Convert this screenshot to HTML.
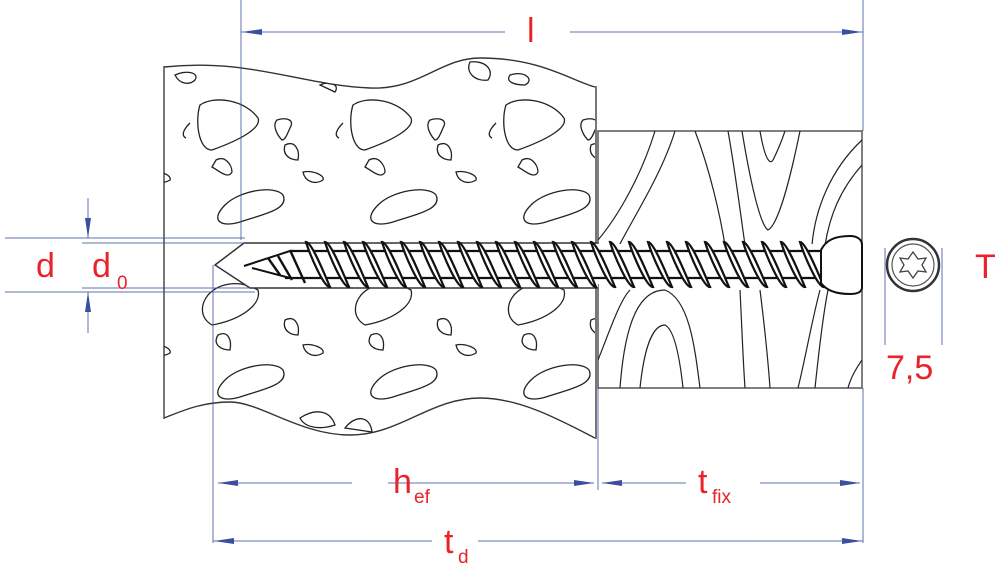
<!DOCTYPE html>
<html><head><meta charset="utf-8"><style>
html,body{margin:0;padding:0;background:#fff;width:1000px;height:573px;overflow:hidden}
svg{display:block}
text{font-family:"Liberation Sans",Arial,sans-serif;fill:#e8232a}
</style></head><body>
<svg width="1000" height="573" viewBox="0 0 1000 573" xmlns="http://www.w3.org/2000/svg">
<defs>
<clipPath id="blk"><path d="M164,67 C250,58 300,85 370,88 C420,90 440,58 480,58 C540,58 570,80 595,87 L595,438 C560,420 520,398 480,398 C430,398 400,435 350,435 C300,435 260,402 230,402 C200,402 180,412 164,418 Z"/></clipPath>
<clipPath id="wd"><rect x="598" y="131" width="264" height="257"/></clipPath>
<g id="tile" fill="none" stroke="#222" stroke-width="1.3">
<path d="M200,105 C215,95 245,100 258,118 C262,128 240,140 212,150 C198,150 195,120 200,105Z"/>
<path d="M216,160 C225,155 232,165 232,172 C228,180 218,170 212,167Z"/>
<path d="M190,123 C185,128 180,135 186,138"/>
<path d="M225,205 C240,190 275,185 283,195 C290,210 260,215 240,222 C220,228 210,220 225,205Z"/>
<path d="M277,120 C287,117 295,120 290,128 C287,135 285,140 282,140 C277,135 272,125 277,120Z"/>
<path d="M303,172 C312,170 325,175 323,180 C315,185 305,182 303,172Z"/>
<path d="M285,145 C295,140 300,150 298,160 C290,160 282,155 285,145Z"/>
<path d="M208,295 C220,282 240,280 258,290 C262,305 240,320 212,325 C200,318 200,305 208,295Z"/>
<path d="M218,335 C228,330 232,340 230,350 C222,350 212,345 218,335Z"/>
<path d="M225,380 C240,365 275,360 283,370 C290,385 260,390 240,397 C220,403 210,395 225,380Z"/>
<path d="M285,320 C295,315 300,325 298,335 C290,335 282,330 285,320Z"/>
<path d="M303,345 C312,343 325,348 323,353 C315,358 305,355 303,345Z"/>
<path d="M285,255 C275,258 272,268 285,270"/>
</g>
</defs>
<path d="M164,67 C250,58 300,85 370,88 C420,90 440,58 480,58 C540,58 570,80 595,87 M164,418 C180,412 200,402 230,402 C260,402 300,435 350,435 C400,435 430,398 480,398 C520,398 560,420 595,438" fill="none" stroke="#333" stroke-width="1.4"/>
<line x1="164" y1="66" x2="164" y2="419" stroke="#555" stroke-width="1.6"/>
<line x1="596" y1="86" x2="596" y2="439" stroke="#555" stroke-width="1.6"/>
<g clip-path="url(#blk)">
<use href="#tile" x="0"/>
<use href="#tile" x="153"/>
<use href="#tile" x="306"/>
<use href="#tile" x="-153"/>
<path d="M175,75 C185,70 200,72 195,80 C190,85 180,85 175,75Z M320,85 C330,80 340,85 335,92Z M470,62 C485,60 495,70 488,80 C475,82 465,72 470,62Z M510,75 C525,70 535,80 525,85 C515,85 505,82 510,75Z M300,418 C315,408 330,410 335,425 C320,430 305,428 300,418Z M345,428 C355,415 370,415 372,432Z" fill="none" stroke="#222" stroke-width="1.3"/>
</g>
<rect x="598" y="131" width="264" height="257" fill="#fff" stroke="#555" stroke-width="1.5"/>
<g clip-path="url(#wd)" fill="none" stroke="#222" stroke-width="1.2">
<path d="M655,131 C640,180 615,220 598,240"/>
<path d="M675,131 C660,180 625,230 612,260"/>
<path d="M695,131 C710,170 720,215 725,245"/>
<path d="M728,131 C735,170 740,210 745,245"/>
<path d="M760,131 C765,160 770,165 773,160 C778,150 782,140 785,131"/>
<path d="M742,131 C750,180 760,225 768,230 C778,225 790,180 800,131"/>
<path d="M862,165 C840,190 830,215 825,245"/>
<path d="M862,140 C830,170 815,210 812,245"/>
<path d="M598,360 C610,330 620,300 630,290"/>
<path d="M620,388 C625,320 640,290 665,290 C690,300 695,350 700,388"/>
<path d="M640,388 C645,340 655,325 665,325 C675,330 680,360 683,388"/>
<path d="M740,290 C742,330 743,360 745,388"/>
<path d="M760,290 C765,330 768,360 770,388"/>
<path d="M820,290 C812,320 805,360 798,388"/>
<path d="M828,290 C822,320 818,360 815,388"/>
<path d="M862,360 C855,370 850,380 848,388"/>
</g>
<path d="M598,243 L244,243 L215,265 L250,288 L598,288" fill="#fff" stroke="#333" stroke-width="1.5"/>
<rect x="255" y="244" width="567" height="40" fill="#fff"/>
<path d="M290,251 L820,251 M285,278 L820,278" stroke="#111" stroke-width="2.2"/>
<path d="M244,266 L290,251 M252,268 L290,278" stroke="#111" stroke-width="2"/>
<g stroke="#111" stroke-width="2.4" fill="none">
<path d="M268,258 L280,275 M278,256 L292,280 M290,250 L305,283"/>
</g>
<g id="th" stroke="#111" stroke-width="2.2" fill="#fff">
<path d="M306,242 C312,242 326,278 330,287 C324,288 310,255 306,242Z"/>
</g>
<use href="#th" x="19"/><use href="#th" x="38"/><use href="#th" x="57"/><use href="#th" x="76"/>
<use href="#th" x="95"/><use href="#th" x="114"/><use href="#th" x="133"/><use href="#th" x="152"/>
<use href="#th" x="171"/><use href="#th" x="190"/><use href="#th" x="209"/><use href="#th" x="228"/>
<use href="#th" x="247"/><use href="#th" x="266"/><use href="#th" x="285"/><use href="#th" x="304"/>
<use href="#th" x="323"/><use href="#th" x="342"/><use href="#th" x="361"/><use href="#th" x="380"/>
<use href="#th" x="399"/><use href="#th" x="418"/><use href="#th" x="437"/><use href="#th" x="456"/>
<use href="#th" x="475"/><use href="#th" x="494"/>
<path d="M821,250 C826,240 835,236 850,236 C858,236 862,240 862,245 L862,287 C862,292 858,294 850,294 C835,294 826,290 821,283 Z" fill="#fff" stroke="#111" stroke-width="2"/>
<circle cx="913" cy="265" r="26" fill="#fff" stroke="#333" stroke-width="2.5"/>
<circle cx="913" cy="265" r="21" fill="none" stroke="#555" stroke-width="1.2"/>
<path d="M913,252 L918,259 L926,258 L922,265 L926,272 L918,271 L913,278 L908,271 L900,272 L904,265 L900,258 L908,259Z" fill="none" stroke="#444" stroke-width="1.3"/>
<g stroke="#3b4ea0" stroke-width="1" fill="none" opacity="0.8">
<line x1="241" y1="0" x2="241" y2="240"/>
<line x1="863" y1="0" x2="863" y2="131"/>
<line x1="241" y1="32" x2="505" y2="32"/><line x1="570" y1="32" x2="863" y2="32"/>
<line x1="213" y1="265" x2="213" y2="543"/>
<line x1="598" y1="388" x2="598" y2="490"/>
<line x1="863" y1="388" x2="863" y2="543"/>
<line x1="218" y1="483" x2="352" y2="483"/><line x1="388" y1="483" x2="594" y2="483"/>
<line x1="602" y1="483" x2="686" y2="483"/><line x1="760" y1="483" x2="860" y2="483"/>
<line x1="213" y1="541" x2="432" y2="541"/><line x1="478" y1="541" x2="863" y2="541"/>
<line x1="5" y1="238" x2="245" y2="238"/><line x1="5" y1="292" x2="255" y2="292"/>
<line x1="82" y1="243" x2="245" y2="243"/><line x1="82" y1="288" x2="250" y2="288"/>
<line x1="88" y1="198" x2="88" y2="238"/><line x1="88" y1="292" x2="88" y2="333"/>
<line x1="885" y1="248" x2="885" y2="345"/><line x1="942" y1="248" x2="942" y2="345"/>
</g>
<g fill="#3b4ea0">
<path d="M242,32 L262,29 L262,35Z"/><path d="M862,32 L842,29 L842,35Z"/>
<path d="M218,483 L238,480 L238,486Z"/><path d="M594,483 L574,480 L574,486Z"/>
<path d="M602,483 L622,480 L622,486Z"/><path d="M860,483 L840,480 L840,486Z"/>
<path d="M214,541 L234,538 L234,544Z"/><path d="M862,541 L842,538 L842,544Z"/>
<path d="M88,238 L85,218 L91,218Z"/><path d="M88,292 L85,312 L91,312Z"/>
</g>
<text x="527" y="42" font-size="34">l</text>
<text x="36" y="277" font-size="34">d</text>
<text x="92" y="277" font-size="34">d</text><text x="117" y="289" font-size="19">0</text>
<text x="393" y="493" font-size="34">h</text><text x="414" y="503" font-size="19">ef</text>
<text x="698" y="493" font-size="34">t</text><text x="712" y="503" font-size="19">fix</text>
<text x="444" y="553" font-size="34">t</text><text x="458" y="563" font-size="19">d</text>
<text x="975" y="278" font-size="34">T</text>
<text x="886" y="379" font-size="34">7,5</text>
</svg>
</body></html>
